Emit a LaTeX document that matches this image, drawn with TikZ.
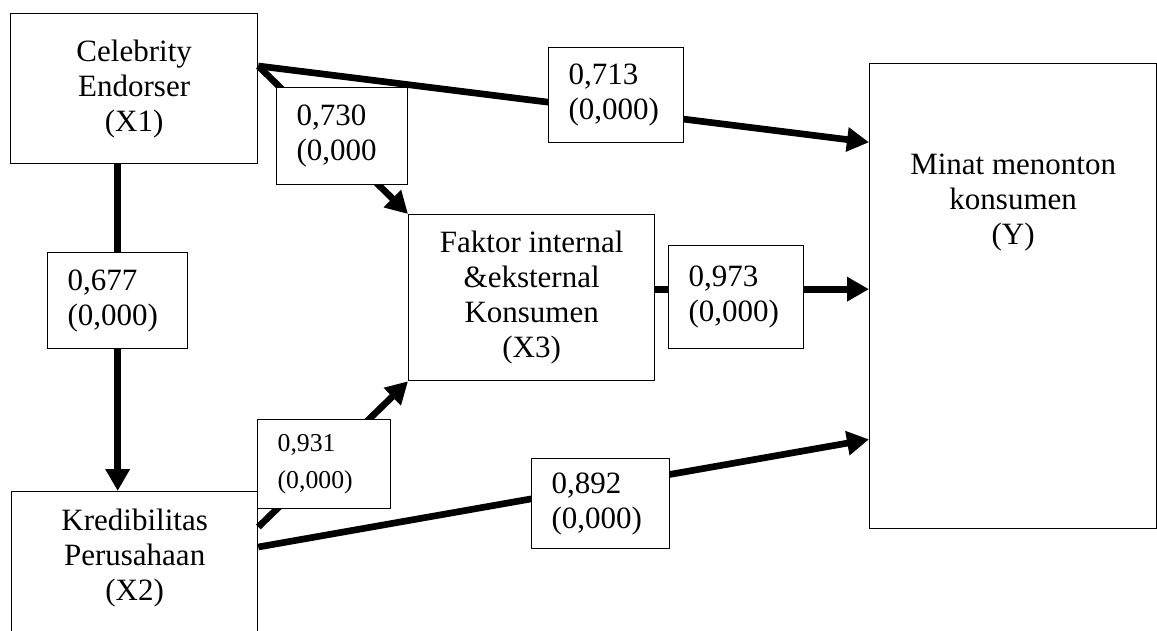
\documentclass[tikz,border=0pt]{standalone}
\usepackage{fontspec}
\setmainfont{Liberation Serif}
\usetikzlibrary{calc,arrows.meta}

\begin{document}
\begin{tikzpicture}[x=0.75pt,y=0.75pt,yscale=-1,xscale=1,
  block/.style={draw, line width=1pt, anchor=north west, align=center, inner sep=0pt},
  coef/.style={draw, line width=1pt, fill=white, anchor=north west, align=left, inner ysep=0pt, inner xsep=15pt},
  arr/.style={line width=5pt, -{Triangle[length=16.5pt,width=17.5pt]}},
  font=\fontsize{23.25}{26.25}\selectfont]
\useasboundingbox (0,0) rectangle (1157,631);
\clip (0,0) rectangle (1157,631);
%Shape: Rectangle [X1]
\node[block, minimum width=185.25pt, minimum height=112.5pt] (X1) at (10,13) {Celebrity\\Endorser\\(X1)};
%Shape: Rectangle [X2]
\node[block, minimum width=184.5pt, minimum height=120pt] (X2) at (11,491) {};
\node[anchor=north, align=center, inner sep=0pt] (X2text) at ($(X2.north)+(0,18)$) {Kredibilitas\\Perusahaan\\(X2)};
%Shape: Rectangle [X3]
\node[block, minimum width=184.5pt, minimum height=124.5pt] (X3) at (408,214) {Faktor internal\\\&eksternal\\Konsumen\\(X3)};
%Shape: Rectangle [Y]
\node[block, minimum width=215.25pt, minimum height=348.75pt] (Y) at (869,63) {};
\node[anchor=north, align=center, inner sep=0pt] (Ytext) at ($(Y.north)+(0,91)$) {Minat menonton\\konsumen\\(Y)};

\coordinate (X1out) at ($(X1.north east)!0.35!(X1.south east)$);
\coordinate (Yin1) at ($(Y.north west)!0.17!(Y.south west)$);
\coordinate (Yin2) at ($(Y.north west)!0.485!(Y.south west)$);
\coordinate (Yin3) at ($(Y.north west)!0.807!(Y.south west)$);
%Straight Lines
\draw[arr] ($(X1.south)+(-16.5,0)$) -- ($(X2.north)+(-17,0)$);
\draw[arr] (X1out) -- (Yin1);
\draw[arr] (X1out) -- (X3.north west);
\draw[arr] (X3.east |- Yin2) -- (Yin2);
\draw[arr] ($(X2.north east)+(0,36)$) -- (X3.south west);
\draw[arr] ($(X2.north east)+(0,56)$) -- (Yin3);
%Text boxes
\node[coef, text width=75pt, minimum height=72pt] (c677) at (47,252) {0,677\\(0,000)};
\node[coef, text width=68.25pt, minimum height=72.75pt] (c730) at (276,87) {0,730\\(0,000};
\node[coef, text width=71.25pt, minimum height=71.25pt] (c713) at (548,47) {0,713\\(0,000)};
\node[coef, text width=71.25pt, minimum height=77.25pt] (c973) at (668,245) {0,973\\(0,000)};
\node[coef, text width=69.75pt, minimum height=66.75pt, font=\fontsize{19.3}{28.3}\selectfont] (c931) at (257,419) {0,931\\(0,000)};
\node[coef, text width=73.5pt, minimum height=67.5pt] (c892) at (531,458) {0,892\\(0,000)};
\end{tikzpicture}
\end{document}
